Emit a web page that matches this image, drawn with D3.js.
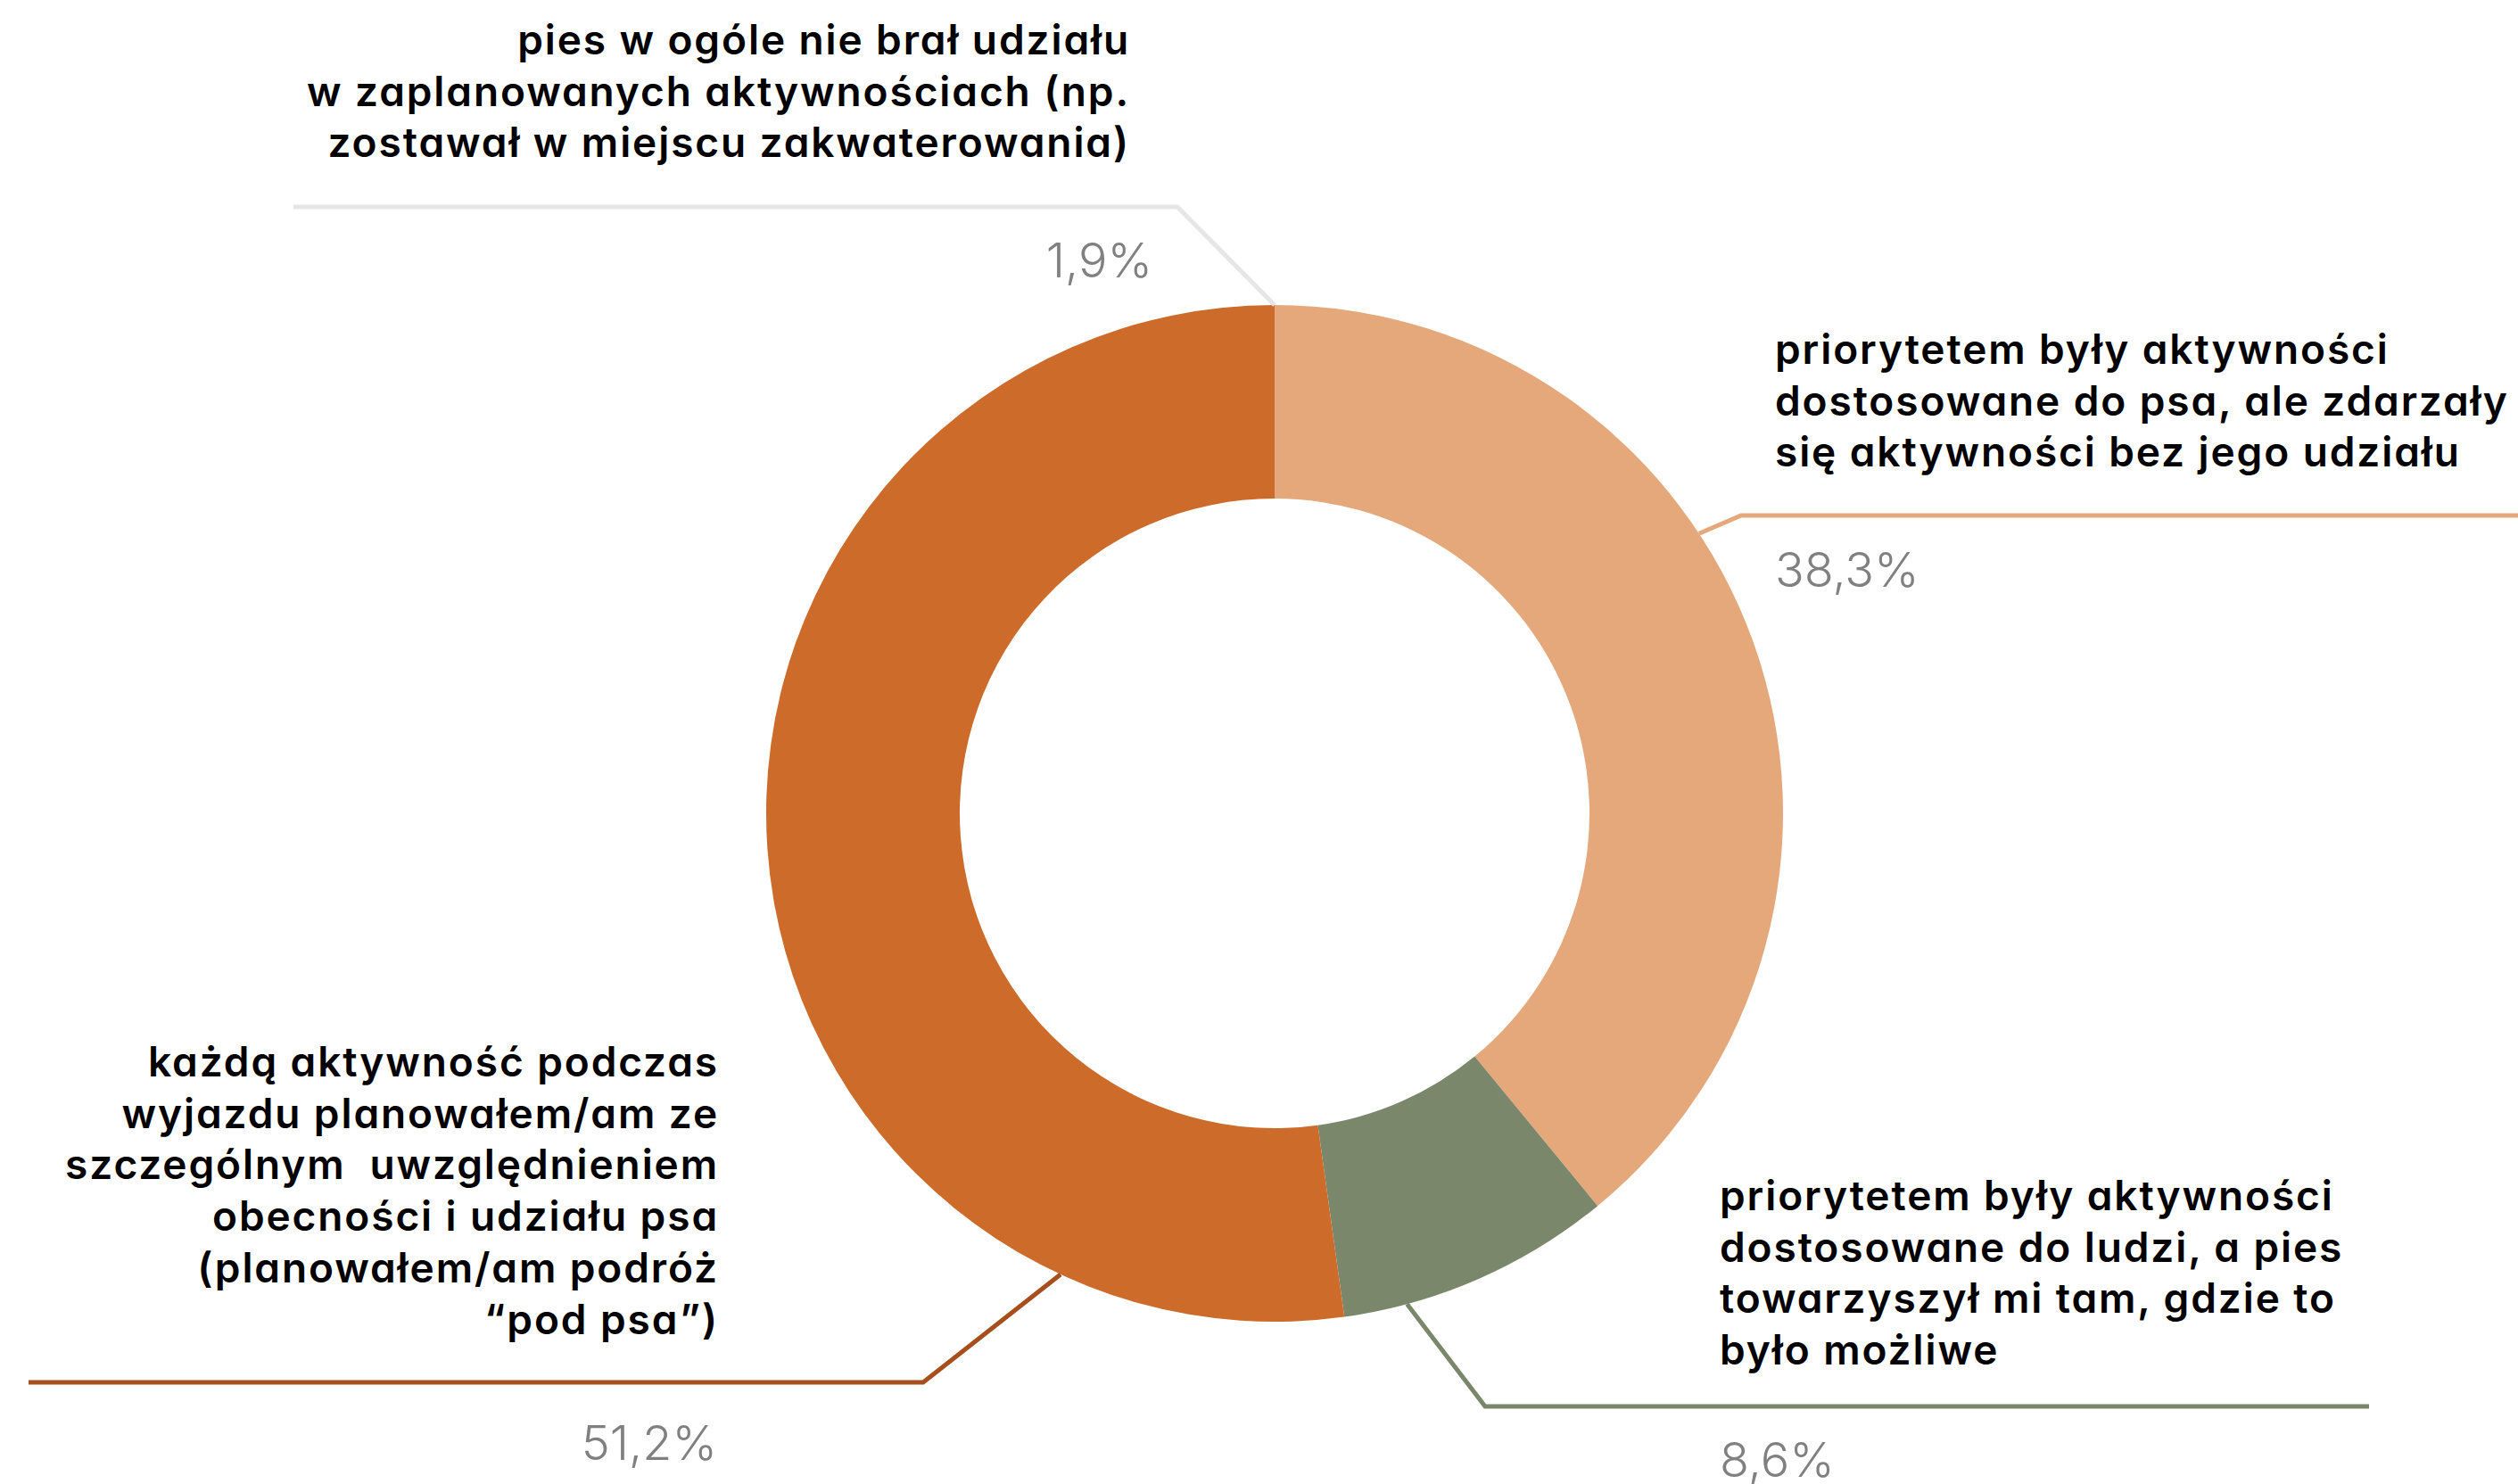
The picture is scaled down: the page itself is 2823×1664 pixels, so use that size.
<!DOCTYPE html>
<html>
<head>
<meta charset="utf-8">
<script src="https://cdn.jsdelivr.net/npm/d3@7"></script>
<style>
  body { margin: 0; background: #fff; }
  .catLabel { font-family: Inter, "Noto Sans", sans-serif; font-weight: 600; font-size: 46px; letter-spacing: 1.9px; fill: #000; font-feature-settings: "cv11" 1; white-space: pre; }
  .pctLabel { font-family: Inter, "Noto Sans", sans-serif; font-weight: 300; font-size: 54px; fill: #808080; }
</style>
</head>
<body>
<div id="chart"></div>
<script>
// data
let categories = [
  ["priorytetem były aktywności", "dostosowane do psa, ale zdarzały", "się aktywności bez jego udziału"],
  ["priorytetem były aktywności", "dostosowane do ludzi, a pies", "towarzyszył mi tam, gdzie to", "było możliwe"],
  ["każdą aktywność podczas", "wyjazdu planowałem/am ze", "szczególnym  uwzględnieniem", "obecności i udziału psa", "(planowałem/am podróż", "“pod psa”)"],
  ["pies w ogóle nie brał udziału", "w zaplanowanych aktywnościach (np.", "zostawał w miejscu zakwaterowania)"]
];
let values = [38.3, 8.6, 51.2, 1.9];
let valueLabels = ["38,3%", "8,6%", "51,2%", "1,9%"];
// the 1,9% slice is not visible in the ring, only its label and leader
let inRing = [true, true, true, false];

let sliceColors = ["#E5A87B", "#7A876B", "#CD6B2B", "#FFFFFF"];
let leaderColors = ["#E5A87B", "#7A876B", "#A64F1C", "#E6E6E6"];

let svgWidth = 2823;
let svgHeight = 1664;

let center = { x: 1429, y: 912 };
let outerR = 570;
let innerR = 353;
let lineHeight = 57.7;

// leader layout: anchor angle on the ring (deg, clockwise from top), elbow and end of the horizontal run
let leaders = [
  { angle: 56.6, ex: 1952, ey: 578, endX: 2823 },
  { angle: 164.9, ex: 1665, ey: 1577, endX: 2656 },
  { angle: 204.9, ex: 1035, ey: 1550, endX: 32 },
  { angle: 0, ex: 1320, ey: 232, endX: 329 }
];
let labelPos = [
  { x: 1990, y: 408, anchor: "start", px: 1990, py: 658 },
  { x: 1928, y: 1357, anchor: "start", px: 1928, py: 1656 },
  { x: 806, y: 1207, anchor: "end", px: 804, py: 1637 },
  { x: 1267, y: 61, anchor: "end", px: 1292, py: 311 }
];

let svg = d3.select("#chart")
  .append("svg")
  .attr("width", svgWidth)
  .attr("height", svgHeight);

let ringGroup = svg.append("g")
  .attr("transform", `translate(${center.x}, ${center.y})`);

let pie = d3.pie()
  .sort(null)
  .value((d, i) => inRing[i] ? d : 0);

let arc = d3.arc()
  .innerRadius(innerR)
  .outerRadius(outerR);

ringGroup.selectAll("path")
  .data(pie(values))
  .enter()
  .append("path")
  .attr("d", arc)
  .attr("fill", (d, i) => sliceColors[i]);

// leader lines
let line = d3.line();
svg.selectAll(".leader")
  .data(leaders)
  .enter()
  .append("path")
  .attr("class", "leader")
  .attr("fill", "none")
  .attr("stroke", (d, i) => leaderColors[i])
  .attr("stroke-width", 5)
  .attr("d", d => {
    let a = d.angle * Math.PI / 180;
    let ax = center.x + outerR * Math.sin(a);
    let ay = center.y - outerR * Math.cos(a);
    return line([[ax, ay], [d.ex, d.ey], [d.endX, d.ey]]);
  });

// category labels
categories.forEach((lines, i) => {
  let p = labelPos[i];
  let t = svg.append("text")
    .attr("class", "catLabel")
    .attr("text-anchor", p.anchor);
  lines.forEach((s, j) => {
    t.append("tspan")
      .attr("x", p.x)
      .attr("y", p.y + j * lineHeight)
      .text(s);
  });
});

// value labels
svg.selectAll(".pctLabel")
  .data(valueLabels)
  .enter()
  .append("text")
  .attr("class", "pctLabel")
  .attr("x", (d, i) => labelPos[i].px)
  .attr("y", (d, i) => labelPos[i].py)
  .attr("text-anchor", (d, i) => labelPos[i].anchor)
  .text(d => d);
</script>
</body>
</html>
